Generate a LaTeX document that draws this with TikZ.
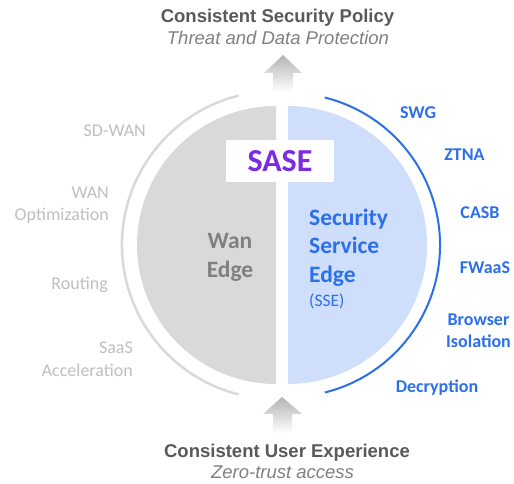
\documentclass[tikz,border=0pt]{standalone}
\usepackage{fontspec}
\setmainfont{Carlito}
\newfontfamily\arialfont{Liberation Sans}
\usetikzlibrary{calc}
\definecolor{wangrey}{HTML}{D9D9D9}
\definecolor{ssefill}{HTML}{CFDFFB}
\definecolor{sseblue}{HTML}{2C6FEA}
\definecolor{labelgrey}{HTML}{BFBFBF}
\definecolor{wantext}{HTML}{808080}
\definecolor{sasepurple}{HTML}{7B2BE2}
\definecolor{titlegrey}{HTML}{595959}
\definecolor{subgrey}{HTML}{808080}
\definecolor{arrowgrey}{HTML}{B3B3B3}

\begin{document}
\begin{tikzpicture}[x=1pt, y=1pt,
    wanitem/.style={anchor=base east, inner sep=0, text=labelgrey, font=\fontsize{18}{22}\selectfont},
    sseitem/.style={anchor=base, inner sep=0, text=sseblue, font=\bfseries\fontsize{18}{22}\selectfont},
    heading/.style={anchor=base, inner sep=0, text=titlegrey, font=\arialfont\bfseries\fontsize{18.5}{22}\selectfont},
    subheading/.style={anchor=base, inner sep=0, text=subgrey, font=\arialfont\itshape\fontsize{18.5}{22}\selectfont}]
                \useasboundingbox (0,0) rectangle (514,483);

                % Arrows
                \shade[top color=arrowgrey, bottom color=white] (283,428) -- (302,410) -- (293,410) -- (293,391) -- (273,391) -- (273,410) -- (264,410) -- cycle;
                \shade[top color=arrowgrey, bottom color=white] (282,86) -- (302,69) -- (292,69) -- (292,50) -- (273,50) -- (273,69) -- (263,69) -- cycle;

                % Two halves
                \fill[wangrey] (276,377) arc[start angle=90, end angle=270, radius=139] -- cycle;
                \fill[ssefill] (288,99) arc[start angle=-90, end angle=90, radius=139] -- cycle;

                % Outer arcs
                \draw[wangrey, line width=2.5] (276,238) ++(104:154) arc[start angle=104, end angle=256, radius=154];
                \draw[sseblue, line width=2] (288,238) ++(-76:152) arc[start angle=-76, end angle=76, radius=152];

                % SASE label
                \node[fill=white, minimum width=108, minimum height=42, inner sep=0, text=sasepurple, font=\bfseries\fontsize{32}{36}\selectfont] (sase) at (280,322) {SASE};

                % Headings
                \node[heading] (policy) at (277.5,460) {Consistent Security Policy};
                \node[subheading] (protection) at (278,438) {Threat and Data Protection};
                \node[heading] (experience) at (287,26) {Consistent User Experience};
                \node[subheading] (access) at (282.5,5) {Zero-trust access};

                % Wan edge
                \node[anchor=base, inner sep=0, text=wantext, font=\bfseries\fontsize{23.5}{28}\selectfont] (wan) at (230,235) {Wan};
                \node[anchor=base, inner sep=0, text=wantext, font=\bfseries\fontsize{23.5}{28}\selectfont] (wanedge) at (230,206) {Edge};

                % Security service edge
                \node[anchor=base west, inner sep=0, text=sseblue, font=\bfseries\fontsize{23.5}{28}\selectfont] (security) at (309,258) {Security};
                \node[anchor=base west, inner sep=0, text=sseblue, font=\bfseries\fontsize{23.5}{28}\selectfont] (service) at (309,230) {Service};
                \node[anchor=base west, inner sep=0, text=sseblue, font=\bfseries\fontsize{23.5}{28}\selectfont] (sseedge) at (309,201) {Edge};
                \node[anchor=base west, inner sep=0, text=sseblue, font=\fontsize{17.5}{21}\selectfont] (sseabbr) at (309,177) {(SSE)};

                % Wan items
                \node[wanitem] (sdwan) at (146,346) {SD-WAN};
                \node[wanitem] (wanopt) at (109,285) {WAN};
                \node[wanitem] (wanopt2) at (109,263) {Optimization};
                \node[wanitem] (routing) at (108,194) {Routing};
                \node[wanitem] (saas) at (133,130) {SaaS};
                \node[wanitem] (saas2) at (133,107) {Acceleration};

                % SSE items
                \node[sseitem] (swg) at (418,364) {SWG};
                \node[sseitem] (ztna) at (464.5,323) {ZTNA};
                \node[sseitem] (casb) at (480,265) {CASB};
                \node[sseitem] (fwaas) at (485,210) {FWaaS};
                \node[sseitem] (browser) at (478.5,158) {Browser};
                \node[sseitem] (browser2) at (478.5,136) {Isolation};
                \node[sseitem] (decryption) at (437,91) {Decryption};
            \end{tikzpicture}
\end{document}
